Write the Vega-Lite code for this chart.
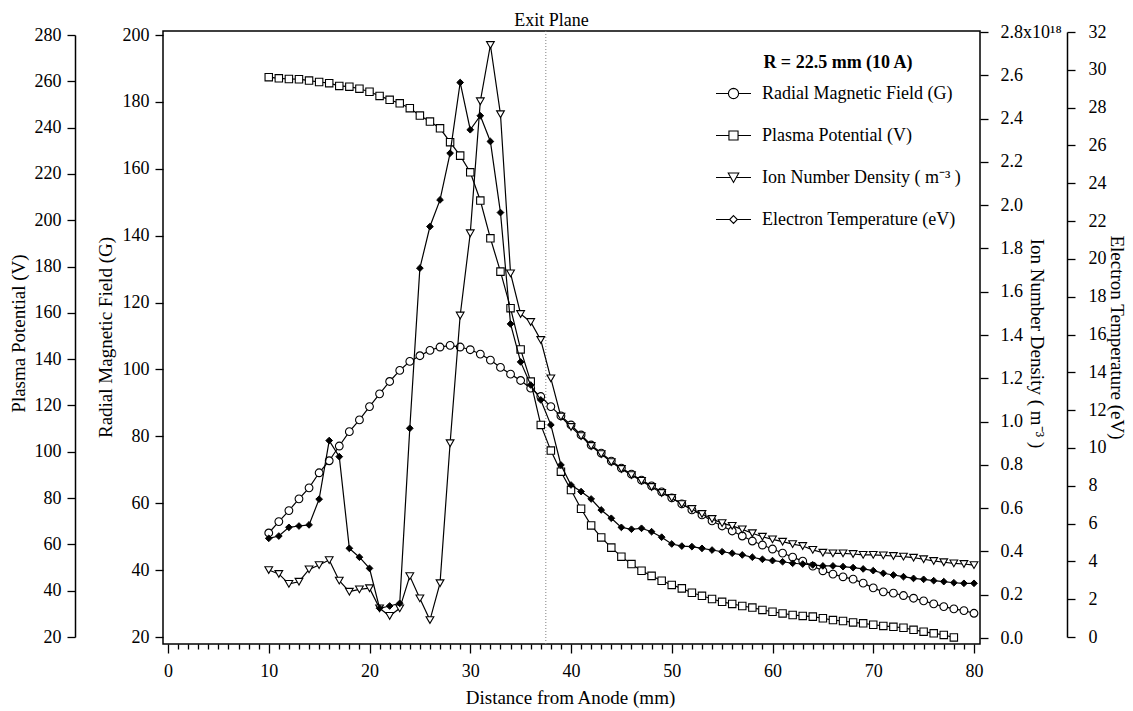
{
"$schema": "https://vega.github.io/schema/vega-lite/v6.json",
"width": 817, "height": 613,
"autosize": {"type": "none"},
"padding": {"left": 163, "top": 31, "right": 153, "bottom": 67},
"background": "white",
"title": {"text": "Exit Plane", "anchor": "middle", "frame": "group", "dx": -20, "offset": -25, "baseline": "bottom", "font": "Liberation Serif", "fontSize": 18, "fontWeight": "normal", "color": "black"},
"config": {
  "view": {"stroke": "black", "strokeWidth": 1.5},
  "font": "Liberation Serif",
  "axis": {"grid": false, "labelFont": "Liberation Serif", "titleFont": "Liberation Serif", "labelFontSize": 18, "titleFontSize": 19, "titleFontWeight": "normal", "labelColor": "black", "titleColor": "black", "tickColor": "black", "domainColor": "black", "tickWidth": 1.3, "domainWidth": 1.5, "labelFlush": false, "labelOverlap": false}
},
"data": {"values": [
{"x":10,"s":"B","v":51.1},{"x":11,"s":"B","v":54.5},{"x":12,"s":"B","v":57.8},{"x":13,"s":"B","v":61.3},{"x":14,"s":"B","v":64.6},{"x":15,"s":"B","v":69.1},{"x":16,"s":"B","v":72.7},{"x":17,"s":"B","v":77.1},{"x":18,"s":"B","v":81.4},{"x":19,"s":"B","v":84.9},{"x":20,"s":"B","v":88.9},{"x":21,"s":"B","v":92.7},{"x":22,"s":"B","v":96.4},{"x":23,"s":"B","v":99.7},{"x":24,"s":"B","v":102.4},{"x":25,"s":"B","v":104.1},{"x":26,"s":"B","v":105.7},{"x":27,"s":"B","v":106.7},{"x":28,"s":"B","v":107.2},{"x":29,"s":"B","v":106.7},{"x":30,"s":"B","v":105.9},{"x":31,"s":"B","v":104.6},{"x":32,"s":"B","v":102.8},{"x":33,"s":"B","v":100.6},{"x":34,"s":"B","v":98.6},{"x":35,"s":"B","v":96.7},{"x":36,"s":"B","v":94.4},{"x":37,"s":"B","v":91.9},{"x":38,"s":"B","v":88.9},{"x":39,"s":"B","v":86.1},{"x":40,"s":"B","v":83.4},{"x":41,"s":"B","v":80.4},{"x":42,"s":"B","v":77.4},{"x":43,"s":"B","v":75.0},{"x":44,"s":"B","v":72.6},{"x":45,"s":"B","v":70.5},{"x":46,"s":"B","v":68.7},{"x":47,"s":"B","v":66.9},{"x":48,"s":"B","v":65.2},{"x":49,"s":"B","v":63.4},{"x":50,"s":"B","v":61.6},{"x":51,"s":"B","v":59.8},{"x":52,"s":"B","v":58.0},{"x":53,"s":"B","v":56.5},{"x":54,"s":"B","v":54.7},{"x":55,"s":"B","v":53.2},{"x":56,"s":"B","v":51.7},{"x":57,"s":"B","v":50.2},{"x":58,"s":"B","v":48.7},{"x":59,"s":"B","v":47.5},{"x":60,"s":"B","v":46.3},{"x":61,"s":"B","v":45.1},{"x":62,"s":"B","v":43.9},{"x":63,"s":"B","v":42.7},{"x":64,"s":"B","v":41.2},{"x":65,"s":"B","v":39.8},{"x":66,"s":"B","v":38.8},{"x":67,"s":"B","v":38.0},{"x":68,"s":"B","v":37.3},{"x":69,"s":"B","v":36.1},{"x":70,"s":"B","v":34.7},{"x":71,"s":"B","v":33.5},{"x":72,"s":"B","v":33.1},{"x":73,"s":"B","v":32.4},{"x":74,"s":"B","v":31.6},{"x":75,"s":"B","v":30.8},{"x":76,"s":"B","v":29.9},{"x":77,"s":"B","v":29.1},{"x":78,"s":"B","v":28.4},{"x":79,"s":"B","v":27.9},{"x":80,"s":"B","v":27.1},
{"x":10,"s":"V","v":261.8},{"x":11,"s":"V","v":261.3},{"x":12,"s":"V","v":261.0},{"x":13,"s":"V","v":260.9},{"x":14,"s":"V","v":260.3},{"x":15,"s":"V","v":259.7},{"x":16,"s":"V","v":259.2},{"x":17,"s":"V","v":258.0},{"x":18,"s":"V","v":257.7},{"x":19,"s":"V","v":256.8},{"x":20,"s":"V","v":255.5},{"x":21,"s":"V","v":253.7},{"x":22,"s":"V","v":252.0},{"x":23,"s":"V","v":250.5},{"x":24,"s":"V","v":248.4},{"x":25,"s":"V","v":245.2},{"x":26,"s":"V","v":242.6},{"x":27,"s":"V","v":239.7},{"x":28,"s":"V","v":233.7},{"x":29,"s":"V","v":227.9},{"x":30,"s":"V","v":220.7},{"x":31,"s":"V","v":208.5},{"x":32,"s":"V","v":192.2},{"x":33,"s":"V","v":177.8},{"x":34,"s":"V","v":162.0},{"x":35,"s":"V","v":144.2},{"x":36,"s":"V","v":130.3},{"x":37,"s":"V","v":111.6},{"x":38,"s":"V","v":100.5},{"x":39,"s":"V","v":91.4},{"x":40,"s":"V","v":83.5},{"x":41,"s":"V","v":75.4},{"x":42,"s":"V","v":68.2},{"x":43,"s":"V","v":63.0},{"x":44,"s":"V","v":58.6},{"x":45,"s":"V","v":54.7},{"x":46,"s":"V","v":51.5},{"x":47,"s":"V","v":48.6},{"x":48,"s":"V","v":46.4},{"x":49,"s":"V","v":44.3},{"x":50,"s":"V","v":42.5},{"x":51,"s":"V","v":41.0},{"x":52,"s":"V","v":39.1},{"x":53,"s":"V","v":37.8},{"x":54,"s":"V","v":36.4},{"x":55,"s":"V","v":35.2},{"x":56,"s":"V","v":34.3},{"x":57,"s":"V","v":33.4},{"x":58,"s":"V","v":32.7},{"x":59,"s":"V","v":31.7},{"x":60,"s":"V","v":30.9},{"x":61,"s":"V","v":30.2},{"x":62,"s":"V","v":29.5},{"x":63,"s":"V","v":29.1},{"x":64,"s":"V","v":28.8},{"x":65,"s":"V","v":28.1},{"x":66,"s":"V","v":27.3},{"x":67,"s":"V","v":26.9},{"x":68,"s":"V","v":26.3},{"x":69,"s":"V","v":25.9},{"x":70,"s":"V","v":25.3},{"x":71,"s":"V","v":24.8},{"x":72,"s":"V","v":24.4},{"x":73,"s":"V","v":24.0},{"x":74,"s":"V","v":23.1},{"x":75,"s":"V","v":22.3},{"x":76,"s":"V","v":21.6},{"x":77,"s":"V","v":20.9},{"x":78,"s":"V","v":19.8},
{"x":10,"s":"n","v":0.314},{"x":11,"s":"n","v":0.296},{"x":12,"s":"n","v":0.250},{"x":13,"s":"n","v":0.260},{"x":14,"s":"n","v":0.317},{"x":15,"s":"n","v":0.337},{"x":16,"s":"n","v":0.360},{"x":17,"s":"n","v":0.265},{"x":18,"s":"n","v":0.214},{"x":19,"s":"n","v":0.225},{"x":20,"s":"n","v":0.230},{"x":21,"s":"n","v":0.137},{"x":22,"s":"n","v":0.102},{"x":23,"s":"n","v":0.137},{"x":24,"s":"n","v":0.286},{"x":25,"s":"n","v":0.183},{"x":26,"s":"n","v":0.083},{"x":27,"s":"n","v":0.253},{"x":28,"s":"n","v":0.90},{"x":29,"s":"n","v":1.49},{"x":30,"s":"n","v":1.87},{"x":31,"s":"n","v":2.48},{"x":32,"s":"n","v":2.74},{"x":33,"s":"n","v":2.42},{"x":34,"s":"n","v":1.685},{"x":35,"s":"n","v":1.497},{"x":36,"s":"n","v":1.46},{"x":37,"s":"n","v":1.377},{"x":38,"s":"n","v":1.20},{"x":39,"s":"n","v":1.023},{"x":40,"s":"n","v":0.975},{"x":41,"s":"n","v":0.933},{"x":42,"s":"n","v":0.887},{"x":43,"s":"n","v":0.850},{"x":44,"s":"n","v":0.813},{"x":45,"s":"n","v":0.781},{"x":46,"s":"n","v":0.753},{"x":47,"s":"n","v":0.726},{"x":48,"s":"n","v":0.698},{"x":49,"s":"n","v":0.670},{"x":50,"s":"n","v":0.647},{"x":51,"s":"n","v":0.619},{"x":52,"s":"n","v":0.596},{"x":53,"s":"n","v":0.573},{"x":54,"s":"n","v":0.550},{"x":55,"s":"n","v":0.531},{"x":56,"s":"n","v":0.518},{"x":57,"s":"n","v":0.502},{"x":58,"s":"n","v":0.484},{"x":59,"s":"n","v":0.468},{"x":60,"s":"n","v":0.456},{"x":61,"s":"n","v":0.445},{"x":62,"s":"n","v":0.434},{"x":63,"s":"n","v":0.425},{"x":64,"s":"n","v":0.407},{"x":65,"s":"n","v":0.394},{"x":66,"s":"n","v":0.391},{"x":67,"s":"n","v":0.391},{"x":68,"s":"n","v":0.388},{"x":69,"s":"n","v":0.384},{"x":70,"s":"n","v":0.384},{"x":71,"s":"n","v":0.382},{"x":72,"s":"n","v":0.379},{"x":73,"s":"n","v":0.376},{"x":74,"s":"n","v":0.371},{"x":75,"s":"n","v":0.364},{"x":76,"s":"n","v":0.356},{"x":77,"s":"n","v":0.350},{"x":78,"s":"n","v":0.345},{"x":79,"s":"n","v":0.342},{"x":80,"s":"n","v":0.337},
{"x":10,"s":"T","v":5.22},{"x":11,"s":"T","v":5.34},{"x":12,"s":"T","v":5.80},{"x":13,"s":"T","v":5.87},{"x":14,"s":"T","v":5.93},{"x":15,"s":"T","v":7.29},{"x":16,"s":"T","v":10.39},{"x":17,"s":"T","v":9.54},{"x":18,"s":"T","v":4.69},{"x":19,"s":"T","v":4.22},{"x":20,"s":"T","v":3.63},{"x":21,"s":"T","v":1.52},{"x":22,"s":"T","v":1.64},{"x":23,"s":"T","v":1.78},{"x":24,"s":"T","v":11.04},{"x":25,"s":"T","v":19.51},{"x":26,"s":"T","v":21.71},{"x":27,"s":"T","v":23.12},{"x":28,"s":"T","v":25.59},{"x":29,"s":"T","v":29.33},{"x":30,"s":"T","v":26.83},{"x":31,"s":"T","v":27.57},{"x":32,"s":"T","v":26.21},{"x":33,"s":"T","v":22.45},{"x":34,"s":"T","v":16.56},{"x":35,"s":"T","v":14.55},{"x":36,"s":"T","v":13.33},{"x":37,"s":"T","v":12.54},{"x":38,"s":"T","v":11.22},{"x":39,"s":"T","v":9.1},{"x":40,"s":"T","v":8.04},{"x":41,"s":"T","v":7.69},{"x":42,"s":"T","v":7.3},{"x":43,"s":"T","v":6.72},{"x":44,"s":"T","v":6.28},{"x":45,"s":"T","v":5.80},{"x":46,"s":"T","v":5.70},{"x":47,"s":"T","v":5.75},{"x":48,"s":"T","v":5.57},{"x":49,"s":"T","v":5.28},{"x":50,"s":"T","v":4.92},{"x":51,"s":"T","v":4.81},{"x":52,"s":"T","v":4.78},{"x":53,"s":"T","v":4.69},{"x":54,"s":"T","v":4.60},{"x":55,"s":"T","v":4.51},{"x":56,"s":"T","v":4.43},{"x":57,"s":"T","v":4.34},{"x":58,"s":"T","v":4.22},{"x":59,"s":"T","v":4.11},{"x":60,"s":"T","v":4.04},{"x":61,"s":"T","v":3.98},{"x":62,"s":"T","v":3.90},{"x":63,"s":"T","v":3.86},{"x":64,"s":"T","v":3.81},{"x":65,"s":"T","v":3.76},{"x":66,"s":"T","v":3.76},{"x":67,"s":"T","v":3.72},{"x":68,"s":"T","v":3.67},{"x":69,"s":"T","v":3.60},{"x":70,"s":"T","v":3.51},{"x":71,"s":"T","v":3.37},{"x":72,"s":"T","v":3.28},{"x":73,"s":"T","v":3.19},{"x":74,"s":"T","v":3.10},{"x":75,"s":"T","v":3.05},{"x":76,"s":"T","v":2.98},{"x":77,"s":"T","v":2.93},{"x":78,"s":"T","v":2.87},{"x":79,"s":"T","v":2.84},{"x":80,"s":"T","v":2.84}
]},
"encoding": {
  "x": {"field": "x", "type": "quantitative",
    "scale": {"domain": [0, 80], "range": [5, 811], "nice": false, "zero": false},
    "axis": {"values": [0,1,2,3,4,5,6,7,8,9,10,11,12,13,14,15,16,17,18,19,20,21,22,23,24,25,26,27,28,29,30,31,32,33,34,35,36,37,38,39,40,41,42,43,44,45,46,47,48,49,50,51,52,53,54,55,56,57,58,59,60,61,62,63,64,65,66,67,68,69,70,71,72,73,74,75,76,77,78,79,80],
      "labelExpr": "datum.value % 10 === 0 ? datum.label : ''",
      "tickSize": {"condition": {"test": "datum.value % 10 === 0", "value": 9}, "value": 5},
      "labelPadding": 9, "domain": false,
      "title": "Distance from Anode (mm)", "titleX": 407, "titleY": 53, "titleBaseline": "middle"}}
},
"layer": [
  {"data": {"values": [{"x": 37.5}]},
   "mark": {"type": "rule", "color": "#808080", "strokeWidth": 1, "strokeDash": [1, 2]},
   "encoding": {}},
  {"transform": [{"filter": "false"}],
   "mark": {"type": "point", "filled": false, "stroke": "black", "strokeWidth": 1.1},
   "encoding": {"shape": {"field": "s", "type": "nominal",
     "scale": {"domain": ["B", "V", "n", "T"], "range": [
       "M-1,0H-0.29M0.29,0H1M0.29,0L0.268,0.111L0.205,0.205L0.111,0.268L0,0.29L-0.111,0.268L-0.205,0.205L-0.268,0.111L-0.29,0L-0.268,-0.111L-0.205,-0.205L-0.111,-0.268L0,-0.29L0.111,-0.268L0.205,-0.205L0.268,-0.111Z",
       "M-1,0H-0.26M0.26,0H1M-0.26,-0.26H0.26V0.26H-0.26Z",
       "M-1,0H-0.156M0.156,0H1M-0.3,-0.26H0.3L0,0.28Z",
       "M-1,0H-0.22M0.22,0H1M0,-0.22L0.22,0L0,0.22L-0.22,0Z"]},
     "legend": {"orient": "none", "legendX": 552, "legendY": 23, "title": "R = 22.5 mm (10 A)", "titleAnchor": "middle",
       "titleFont": "Liberation Serif", "titleFontSize": 18, "titleFontWeight": "bold", "titleColor": "black", "titlePadding": 3,
       "labelFont": "Liberation Serif", "labelFontSize": 18, "labelColor": "black", "labelOffset": 10, "labelLimit": 400,
       "symbolSize": 1225, "symbolOpacity": 1, "symbolStrokeColor": "black", "symbolStrokeWidth": 1.1,
       "rowPadding": 14, "padding": 0,
       "labelExpr": "datum.value === 'B' ? 'Radial Magnetic Field (G)' : datum.value === 'V' ? 'Plasma Potential (V)' : datum.value === 'n' ? 'Ion Number Density ( m⁻³ )' : 'Electron Temperature (eV)'",
       "encode": {"symbols": {"update": {"stroke": {"value": "black"}, "strokeWidth": {"value": 1.1}, "opacity": {"value": 1}}}}}}}},
  {"transform": [{"filter": "datum.s === 'B'"}],
   "encoding": {"y": {"field": "v", "type": "quantitative",
      "scale": {"domain": [20, 200], "range": [606, 4], "nice": false, "zero": false},
      "axis": {"orient": "left", "values": [20,40,60,80,100,120,140,160,180,200], "domain": false, "tickSize": 8, "labelPadding": 6,
        "title": "Radial Magnetic Field (G)", "titleX": -58, "titleY": 306, "titleBaseline": "middle", "titleAngle": -90}}},
   "layer": [
     {"mark": {"type": "line", "color": "black", "strokeWidth": 1.2}, "encoding": {}},
     {"mark": {"type": "point", "shape": "circle", "filled": true, "fill": "white", "stroke": "black", "strokeWidth": 1.1, "size": 60, "opacity": 1}, "encoding": {}}
   ]},
  {"transform": [{"filter": "datum.s === 'V'"}],
   "encoding": {"y": {"field": "v", "type": "quantitative",
      "scale": {"domain": [20, 280], "range": [606, 4], "nice": false, "zero": false},
      "axis": {"orient": "left", "offset": 88, "values": [20,40,60,80,100,120,140,160,180,200,220,240,260,280], "domain": true, "tickSize": 8, "labelPadding": 6,
        "title": "Plasma Potential (V)", "titleX": -57, "titleY": 302, "titleBaseline": "middle", "titleAngle": -90}}},
   "layer": [
     {"mark": {"type": "line", "color": "black", "strokeWidth": 1.2}, "encoding": {}},
     {"mark": {"type": "point", "shape": "square", "filled": true, "fill": "white", "stroke": "black", "strokeWidth": 1.1, "size": 55, "opacity": 1}, "encoding": {}}
   ]},
  {"transform": [{"filter": "datum.s === 'n'"}],
   "encoding": {"y": {"field": "v", "type": "quantitative",
      "scale": {"domain": [0, 2.8], "range": [607, 1], "nice": false, "zero": false},
      "axis": {"orient": "right", "values": [0,0.2,0.4,0.6,0.8,1,1.2,1.4,1.6,1.8,2,2.2,2.4,2.6,2.8], "domain": false, "tickSize": 8, "labelPadding": 12,
        "labelExpr": "datum.value > 2.75 ? '2.8x10¹⁸' : format(datum.value, '.1f')",
        "title": "Ion Number Density ( m⁻³ )", "titleX": 56, "titleY": 312, "titleBaseline": "middle", "titleAngle": 90}}},
   "layer": [
     {"mark": {"type": "line", "color": "black", "strokeWidth": 1.2}, "encoding": {}},
     {"mark": {"type": "point", "shape": "triangle-down", "filled": true, "fill": "white", "stroke": "black", "strokeWidth": 1.1, "size": 60, "opacity": 1}, "encoding": {}}
   ]},
  {"transform": [{"filter": "datum.s === 'T'"}],
   "encoding": {"y": {"field": "v", "type": "quantitative",
      "scale": {"domain": [0, 32], "range": [606, 1], "nice": false, "zero": false},
      "axis": {"orient": "right", "offset": 87, "values": [0,2,4,6,8,10,12,14,16,18,20,22,24,26,28,30,32], "domain": true, "tickSize": 8, "labelPadding": 13,
        "title": "Electron Temperature (eV)", "titleX": 49, "titleY": 306, "titleBaseline": "middle", "titleAngle": 90}}},
   "layer": [
     {"mark": {"type": "line", "color": "black", "strokeWidth": 1.2}, "encoding": {}},
     {"mark": {"type": "point", "shape": "diamond", "filled": true, "fill": "black", "stroke": "black", "strokeWidth": 1, "size": 45, "opacity": 1}, "encoding": {}}
   ]}
],
"resolve": {"scale": {"y": "independent"}}
}
